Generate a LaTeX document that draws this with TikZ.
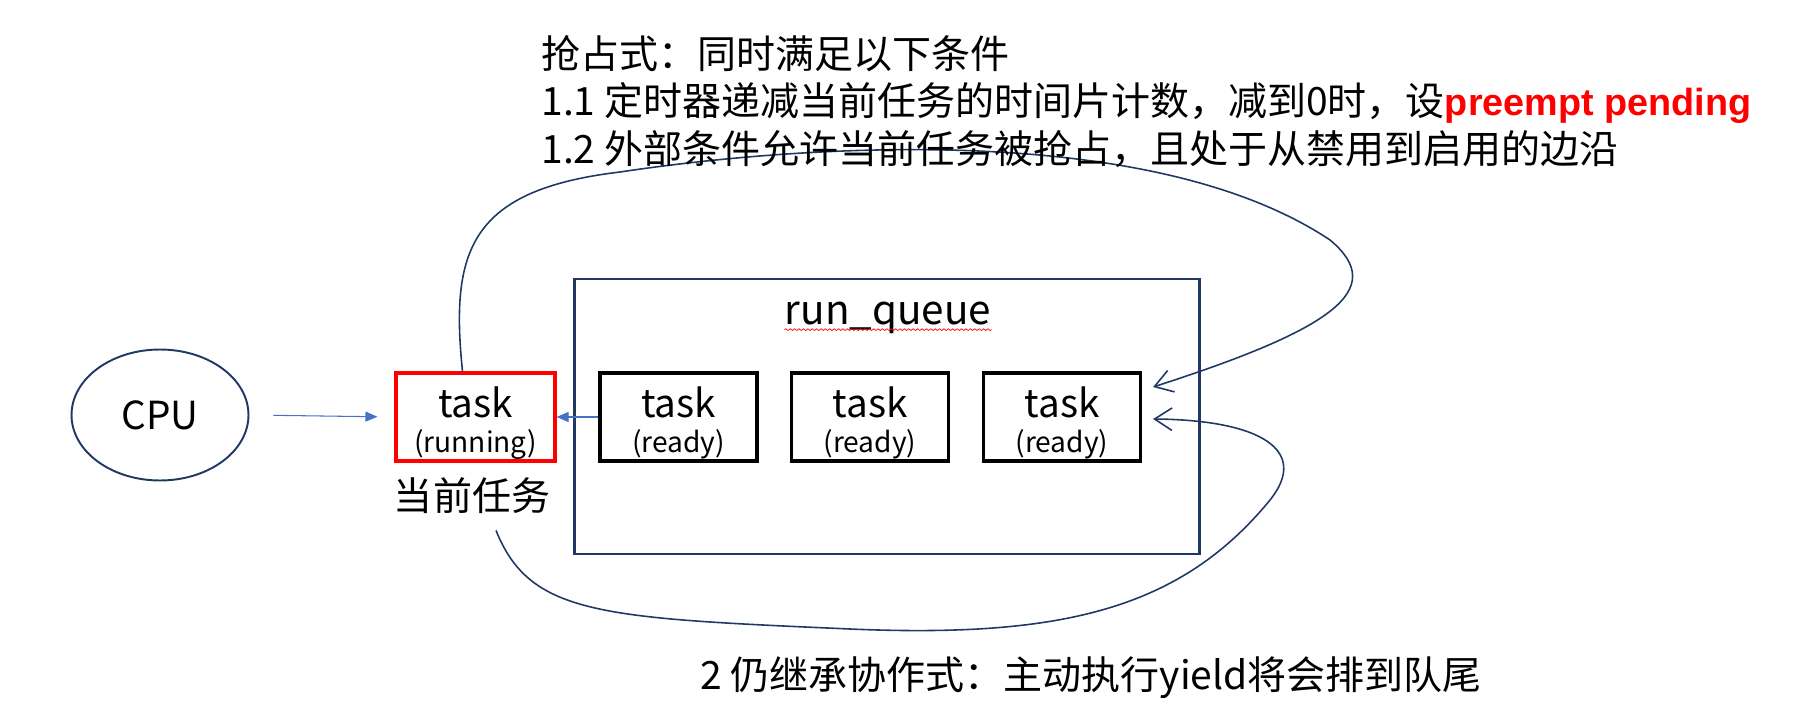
\documentclass[tikz,border=0pt]{standalone}
\usepackage{fontspec}
\setmainfont{Noto Sans CJK SC}
\newfontfamily\boldlatin{Liberation Sans}
\usetikzlibrary{
    arrows.meta,
    positioning,
    shapes.geometric,
    calc,
    decorations.pathmorphing
}
\definecolor{navy}{RGB}{32,56,100}
\definecolor{linkblue}{RGB}{68,114,196}
\definecolor{alertred}{RGB}{255,0,0}
\tikzset{
    % Boxes
    taskbox/.style={
        rectangle,
        draw=black,
        line width=1.8pt,
        minimum width=3.14cm,
        minimum height=1.76cm,
        align=center,
        inner sep=0pt,
        font=\fontsize{22}{24}\selectfont
    },
    runbox/.style={
        taskbox,
        draw=alertred,
        minimum width=3.18cm
    },
    queuebox/.style={
        rectangle,
        draw=navy,
        line width=1.6pt,
        minimum width=12.5cm,
        minimum height=5.5cm
    },
    cpunode/.style={
        ellipse,
        draw=navy,
        line width=1.1pt,
        minimum width=3.54cm,
        minimum height=2.62cm,
        font=\fontsize{22}{26}\selectfont
    },
    % Arrows
    arrow/.style={
        -{Triangle[length=2.4mm,width=2mm]},
        line width=0.6pt,
        draw=linkblue
    },
    looparrow/.style={
        -{Straight Barb[length=3.5mm,width=4.5mm]},
        line width=0.9pt,
        draw=navy
    },
    % Labels
    cnlabel/.style={
        font=\fontsize{22.2}{26}\selectfont,
        inner sep=0pt
    }
}

\begin{document}
\begin{tikzpicture}[x=0.02cm, y=-0.02cm]

    \useasboundingbox (0,0) rectangle (1797,726);

    % CPU and current task
    \node[cpunode] (cpu) at (160,415) {CPU};
    \node[runbox] (run) at (475.5,417) {\rule{0pt}{24pt}task\\[-4pt]{\fontsize{16}{16}\selectfont (running)}};
    \node[cnlabel] (cur) at (472,496) {当前任务};

    % Run queue
    \node[queuebox] (queue) at (887,416.5) {};
    \node[font=\fontsize{23}{26}\selectfont, inner sep=0pt] (qlabel) at (888,318) {run\_queue};
    \draw[alertred, line width=0.4pt, decorate, decoration={snake, amplitude=0.5pt, segment length=2.5pt}]
        ($(qlabel.base west)+(0,5)$) -- ($(qlabel.base east)+(0,5)$);

    % Ready tasks
    \node[taskbox] (t1) at (678.5,417) {\rule{0pt}{24pt}task\\[-4pt]{\fontsize{16}{16}\selectfont (ready)}};
    \node[taskbox] (t2) at (870,417) {\rule{0pt}{24pt}task\\[-4pt]{\fontsize{16}{16}\selectfont (ready)}};
    \node[taskbox] (t3) at (1062,417) {\rule{0pt}{24pt}task\\[-4pt]{\fontsize{16}{16}\selectfont (ready)}};

    % Arrows
    \draw[arrow, shorten <=0.48cm, shorten >=0.34cm] (cpu.east) -- (run.west);
    \draw[arrow] (t1.west) -- (run.east);

    % Back to the queue tail
    \coordinate (topin) at ($(t3.east)+(11,-30)$);
    \coordinate (botin) at ($(t3.east)+(11,2)$);
    \draw[looparrow] ([xshift=-0.26cm]run.north)
        .. controls (450,250) and (470,190) .. (620,172)
        .. controls (800,145) and (1150,120) .. (1330,240)
        .. controls (1390,290) and (1330,330) .. (topin);
    \draw[looparrow] ($(cur.south)+(24,16)$)
        .. controls (530,615) and (600,618) .. (850,629)
        .. controls (1060,638) and (1180,610) .. (1270,500)
        .. controls (1310,450) and (1260,420) .. (botin);

    % Conditions
    \node[cnlabel, anchor=west] (pre1) at (541,54) {抢占式：同时满足以下条件};
    \node[cnlabel, anchor=west] (pre2) at (541,103) {1.1 定时器递减当前任务的时间片计数，减到0时，设{\boldlatin\bfseries\fontsize{21.5}{24}\selectfont\color{alertred}preempt pending}};
    \node[cnlabel, anchor=west] (pre3) at (541,149) {1.2 外部条件允许当前任务被抢占，且处于从禁用到启用的边沿};
    \node[cnlabel] (yield) at (1091,678) {2 仍继承协作式：主动执行yield将会排到队尾};

\end{tikzpicture}
\end{document}
